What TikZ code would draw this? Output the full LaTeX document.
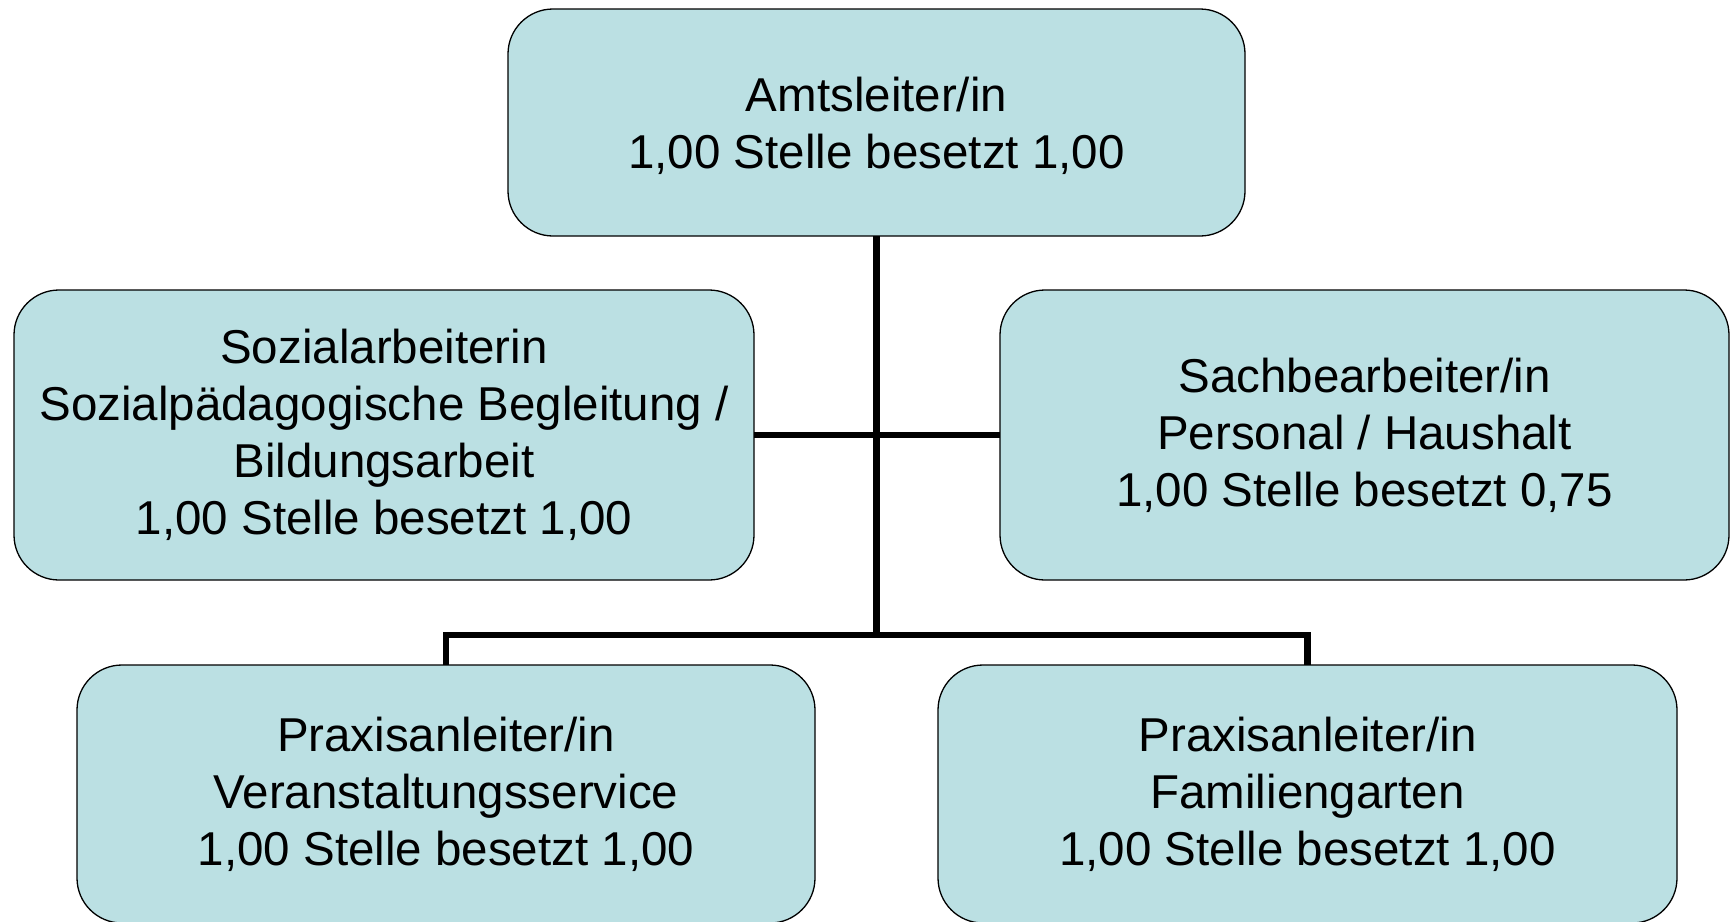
\documentclass[tikz,border=0pt]{standalone}
\usepackage{fontspec}
\setmainfont{Liberation Sans}
\definecolor{boxfill}{RGB}{187,224,227}
\begin{document}
\begin{tikzpicture}[x=1pt,y=-1pt,
  orgbox/.style={draw=black, line width=1.3pt, fill=boxfill, rounded corners=45pt,
    inner sep=0pt, outer sep=0pt, align=center,
    font=\fontsize{47.5pt}{57pt}\selectfont},
  link/.style={draw=black, line width=6.5pt}]
\useasboundingbox (0,0) rectangle (1731,921);
\node[orgbox, minimum width=737pt, minimum height=227pt, text depth=-4pt] (top) at (876.5,122.5)
  {Amtsleiter/in\\1,00 Stelle besetzt 1,00};
\node[orgbox, minimum width=740pt, minimum height=290pt] (left) at (384,435)
  {Sozialarbeiterin\\Sozialpädagogische Begleitung /\\Bildungsarbeit\\1,00 Stelle besetzt 1,00};
\node[orgbox, minimum width=729pt, minimum height=290pt] (right) at (1364.5,435)
  {Sachbearbeiter/in\\Personal / Haushalt\\1,00 Stelle besetzt 0,75};
\node[orgbox, minimum width=738pt, minimum height=258pt] (bl) at (446,794)
  {Praxisanleiter/in\\Veranstaltungsservice\\1,00 Stelle besetzt 1,00};
\node[orgbox, minimum width=739pt, minimum height=258pt] (br) at (1307.5,794)
  {Praxisanleiter/in\\Familiengarten\\1,00 Stelle besetzt 1,00};
\coordinate (j) at (876.5,635);
\draw[link] (top.south) -- (j);
\draw[link] (left.east) -- (right.west);
\draw[link] (bl.north) |- (j) -| (br.north);
\end{tikzpicture}
\end{document}
